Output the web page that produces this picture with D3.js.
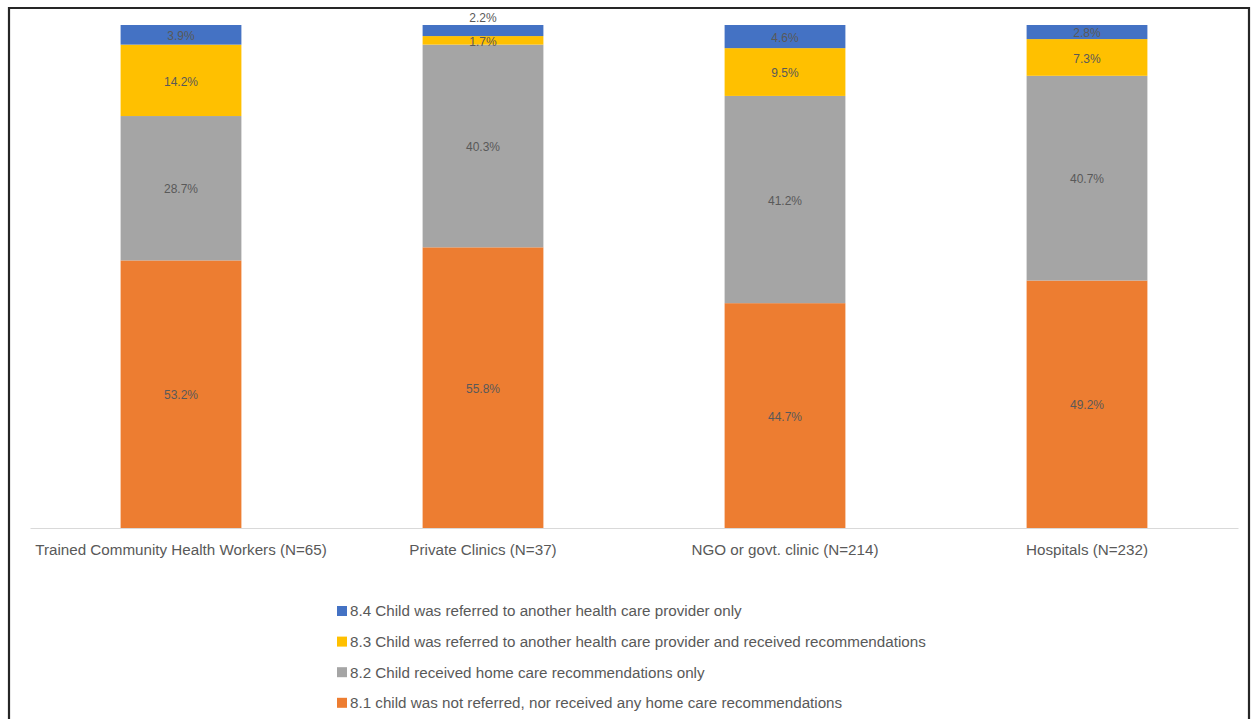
<!DOCTYPE html>
<html>
<head>
<meta charset="utf-8">
<script src="https://cdn.jsdelivr.net/npm/d3@7"></script>
<style>
  html, body { margin: 0; padding: 0; background: #fff; }
  svg { display: block; font-family: "Liberation Sans", Arial, sans-serif; }
</style>
</head>
<body>
<svg id="chart" width="1254" height="719"></svg>
<script>
// Provider types along the x axis
const categories = [
  "Trained Community Health Workers (N=65)",
  "Private Clinics (N=37)",
  "NGO or govt. clinic (N=214)",
  "Hospitals (N=232)"
];

// Stacked series, bottom to top (percent of children)
const seriesNames = [
  "8.1 child was not referred, nor received any home care recommendations",
  "8.2 Child received home care recommendations only",
  "8.3 Child was referred to another health care provider and received recommendations",
  "8.4 Child was referred to another health care provider only"
];
const notReferred   = [53.2, 55.8, 44.7, 49.2];
const homeCareOnly  = [28.7, 40.3, 41.2, 40.7];
const referredAndRec = [14.2, 1.7, 9.5, 7.3];
const referredOnly  = [3.9, 2.2, 4.6, 2.8];

const seriesValues = [notReferred, homeCareOnly, referredAndRec, referredOnly];
const colors = ["#ed7d31", "#a5a5a5", "#ffc000", "#4472c4"];

const svg = d3.select("#chart");

// Outer frame (open at the bottom)
svg.append("path")
  .attr("d", "M9,720 V8 H1249 V720")
  .attr("fill", "none")
  .attr("stroke", "#262626")
  .attr("stroke-width", 2.2);

const plot = { left: 30, right: 1238, top: 25, bottom: 528 };

const x = d3.scaleBand()
  .domain(categories)
  .range([plot.left, plot.right])
  .paddingInner(0)
  .paddingOuter(0);

const barWidth = x.step() * 0.4;

const y = d3.scaleLinear()
  .domain([0, 100])
  .range([plot.bottom, plot.top]);

// Build stack input rows
const rows = categories.map((c, i) => {
  const r = { category: c };
  seriesNames.forEach((s, j) => { r[s] = seriesValues[j][i]; });
  return r;
});

const stacked = d3.stack().keys(seriesNames)(rows);

const layers = svg.append("g").selectAll("g")
  .data(stacked)
  .join("g")
  .attr("fill", (d, i) => colors[i]);

layers.selectAll("rect")
  .data(d => d)
  .join("rect")
  .attr("x", d => x(d.data.category) + x.bandwidth() / 2 - barWidth / 2)
  .attr("width", barWidth)
  .attr("y", d => y(d[1]))
  .attr("height", d => y(d[0]) - y(d[1]));

// Category axis
const xAxis = svg.append("g")
  .attr("transform", `translate(0,${plot.bottom})`)
  .call(d3.axisBottom(x).tickSize(0).tickPadding(16));
xAxis.select(".domain").attr("stroke", "#d9d9d9").attr("stroke-width", 1.2);
xAxis.selectAll("text")
  .attr("fill", "#595959")
  .style("font-size", "15.2px")
  .style("font-family", "'Liberation Sans', Arial, sans-serif");

// Data labels
const labels = svg.append("g")
  .style("font-size", "12px")
  .attr("fill", "#595959")
  .attr("text-anchor", "middle");

stacked.forEach((layer, li) => {
  layer.forEach((d, ci) => {
    const cx = x(d.data.category) + x.bandwidth() / 2;
    let cy = (y(d[0]) + y(d[1])) / 2 + 1;
    // small top segment of private clinics sits above its bar
    if (li === 3 && ci === 1) cy = y(d[1]) - 7;
    labels.append("text")
      .attr("x", cx)
      .attr("y", cy)
      .attr("dy", "0.35em")
      .text(seriesValues[li][ci].toFixed(1) + "%");
  });
});

// Legend, top entry is the top of the stack
const legendOrder = [3, 2, 1, 0];
const legend = svg.append("g")
  .attr("transform", "translate(337,611)");

legendOrder.forEach((si, k) => {
  const g = legend.append("g").attr("transform", `translate(0,${k * 30.6})`);
  g.append("rect")
    .attr("x", 0).attr("y", -5)
    .attr("width", 10).attr("height", 10)
    .attr("fill", colors[si]);
  g.append("text")
    .attr("x", 13).attr("y", 0).attr("dy", "0.35em")
    .attr("fill", "#595959")
    .style("font-size", "15.2px")
    .text(seriesNames[si]);
});
</script>
</body>
</html>
